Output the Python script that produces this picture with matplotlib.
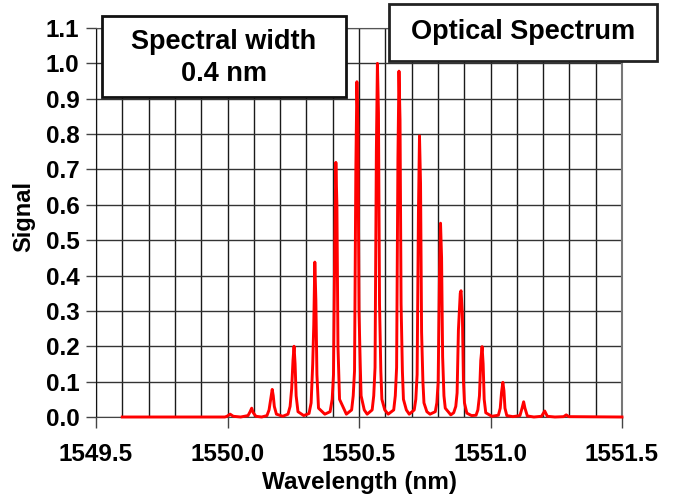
import matplotlib
matplotlib.use("Agg")
import matplotlib.pyplot as plt
from matplotlib.ticker import MultipleLocator

plt.rcParams['font.family'] = ['Liberation Sans', 'DejaVu Sans']
plt.rcParams['font.weight'] = 'bold'

# spectrum, one row per comb line
wavelength_nm = [
    1549.600, 1549.990,
    1549.998, 1550.010, 1550.022, 1550.050,
    1550.078, 1550.086, 1550.092, 1550.098, 1550.108, 1550.130,
    1550.150, 1550.158, 1550.164, 1550.170, 1550.174, 1550.178, 1550.186, 1550.210,
    1550.230, 1550.238, 1550.244, 1550.249, 1550.253, 1550.257, 1550.261, 1550.268, 1550.290,
    1550.310, 1550.318, 1550.324, 1550.328, 1550.332, 1550.336, 1550.340, 1550.346, 1550.370,
    1550.390, 1550.398, 1550.403, 1550.408, 1550.412, 1550.416, 1550.420, 1550.426, 1550.452,
    1550.472, 1550.478, 1550.483, 1550.488, 1550.492, 1550.496, 1550.500, 1550.505, 1550.508, 1550.520, 1550.531,
    1550.550, 1550.556, 1550.561, 1550.566, 1550.570, 1550.574, 1550.578, 1550.583, 1550.587, 1550.598, 1550.611,
    1550.632, 1550.638, 1550.643, 1550.648, 1550.652, 1550.656, 1550.660, 1550.665, 1550.669, 1550.680, 1550.691,
    1550.710, 1550.716, 1550.721, 1550.726, 1550.730, 1550.734, 1550.738, 1550.743, 1550.747, 1550.758, 1550.770,
    1550.790, 1550.796, 1550.801, 1550.806, 1550.810, 1550.814, 1550.818, 1550.823, 1550.828, 1550.849,
    1550.860, 1550.868, 1550.873, 1550.878, 1550.885, 1550.888, 1550.893, 1550.897, 1550.901, 1550.910, 1550.928,
    1550.945, 1550.952, 1550.958, 1550.963, 1550.968, 1550.972, 1550.976, 1550.982, 1551.005,
    1551.030, 1551.037, 1551.042, 1551.047, 1551.051, 1551.055, 1551.062, 1551.085,
    1551.112, 1551.120, 1551.126, 1551.131, 1551.140, 1551.165,
    1551.194, 1551.206, 1551.216, 1551.245,
    1551.278, 1551.288, 1551.298, 1551.500,
]
signal = [
    0.000, 0.000,
    0.002, 0.008, 0.002, 0.000,
    0.004, 0.015, 0.025, 0.012, 0.002, 0.000,
    0.004, 0.020, 0.050, 0.078, 0.060, 0.030, 0.008, 0.002,
    0.008, 0.030, 0.080, 0.160, 0.200, 0.150, 0.060, 0.015, 0.004,
    0.010, 0.040, 0.150, 0.260, 0.438, 0.330, 0.120, 0.025, 0.008,
    0.015, 0.050, 0.120, 0.500, 0.720, 0.600, 0.200, 0.050, 0.008,
    0.020, 0.060, 0.130, 0.700, 0.948, 0.820, 0.300, 0.140, 0.060, 0.020, 0.008,
    0.020, 0.060, 0.140, 0.750, 1.000, 0.860, 0.320, 0.130, 0.050, 0.020, 0.008,
    0.020, 0.060, 0.140, 0.730, 0.978, 0.840, 0.320, 0.130, 0.050, 0.020, 0.008,
    0.020, 0.050, 0.120, 0.580, 0.795, 0.660, 0.240, 0.100, 0.040, 0.015, 0.008,
    0.015, 0.040, 0.100, 0.400, 0.548, 0.450, 0.170, 0.060, 0.025, 0.006,
    0.012, 0.030, 0.068, 0.246, 0.350, 0.357, 0.294, 0.105, 0.040, 0.011, 0.004,
    0.005, 0.020, 0.060, 0.160, 0.199, 0.150, 0.050, 0.012, 0.002,
    0.005, 0.025, 0.070, 0.098, 0.075, 0.025, 0.004, 0.001,
    0.004, 0.025, 0.043, 0.025, 0.003, 0.000,
    0.002, 0.017, 0.002, 0.000,
    0.001, 0.006, 0.001, 0.000,
]

fig = plt.figure(figsize=(6.78, 4.98), dpi=100)
ax = fig.add_axes([96/678, 1-417/498, 526/678, 389/498])

ax.plot(wavelength_nm, signal, color='#ff0000', lw=2.1, zorder=3, clip_on=False)

ax.set_xlim(1549.5, 1551.5)
ax.set_ylim(0, 1.1)
ax.xaxis.set_major_locator(MultipleLocator(0.5))
ax.xaxis.set_minor_locator(MultipleLocator(0.1))
ax.yaxis.set_major_locator(MultipleLocator(0.1))
ax.xaxis.set_major_formatter(lambda v, p: f"{v:.1f}")
ax.yaxis.set_major_formatter(lambda v, p: f"{v:.1f}")

ax.grid(which='both', axis='x', color='#1a1a1a', lw=1.0)
ax.grid(which='major', axis='y', color='#333333', lw=1.0)
ax.set_axisbelow(True)

ax.tick_params(axis='x', which='major', length=8, width=1, color='#444444', labelsize=17.5, pad=11)
ax.tick_params(axis='x', which='minor', length=0)
ax.tick_params(axis='y', length=7, width=1, color='#444444', labelsize=17.5, pad=5)

ax.spines['left'].set_color('#111111')
ax.spines['right'].set_color('#777777')
ax.spines['right'].set_linewidth(1.5)
ax.spines['top'].set_color('#555555')
ax.spines['bottom'].set_color('#444444')

fig.text(359/678, 1-482/498, 'Wavelength (nm)', ha='center', va='center',
         fontsize=17.5, fontweight='bold')
fig.text(24/678, 1-216/498, 'Signal', ha='center', va='center', rotation=90,
         fontsize=17, fontweight='bold')

fig.patches.append(plt.Rectangle((102/678, 1-97/498), 244/678, 81/498, transform=fig.transFigure,
                                 facecolor='white', edgecolor='#111111', lw=2, zorder=5))
fig.patches.append(plt.Rectangle((389/678, 1-61/498), 268/678, 57/498, transform=fig.transFigure,
                                 facecolor='white', edgecolor='#222222', lw=2, zorder=5))
fig.text(224/678, 1-42/498, 'Spectral width', ha='center', va='center',
         fontsize=19.5, fontweight='bold', zorder=6)
fig.text(224/678, 1-74/498, '0.4 nm', ha='center', va='center',
         fontsize=19.5, fontweight='bold', zorder=6)
fig.text(523/678, 1-32/498, 'Optical Spectrum', ha='center', va='center',
         fontsize=19.5, fontweight='bold', zorder=6)

fig.savefig('out.png', dpi=100)
